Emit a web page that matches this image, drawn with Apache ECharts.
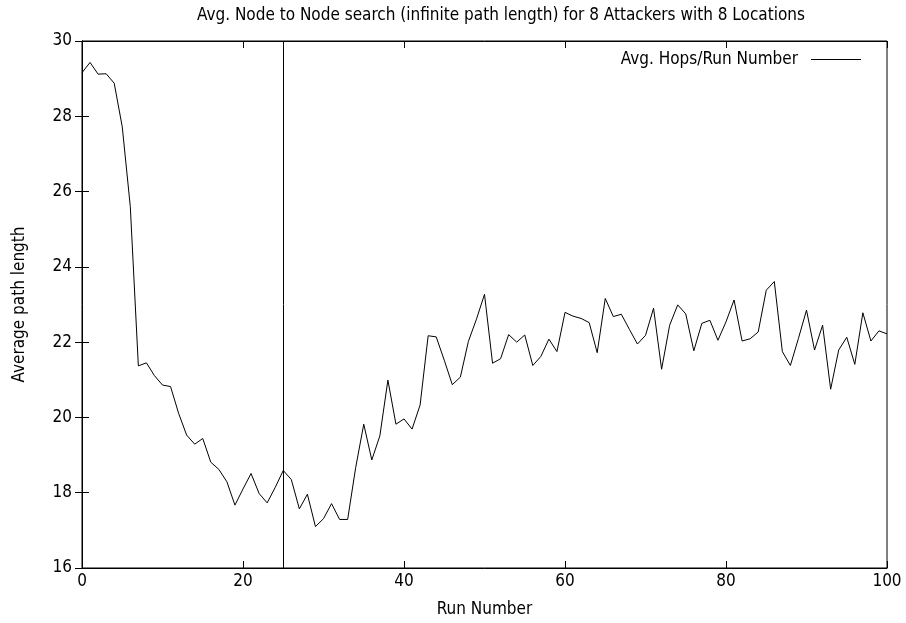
<!DOCTYPE html>
<html>
<head>
<meta charset="utf-8">
<script src="https://cdn.jsdelivr.net/npm/echarts@6/dist/echarts.min.js"></script>
<style>
  html, body { margin: 0; padding: 0; background: #fff; }
  #chart { width: 906px; height: 623px; }
</style>
</head>
<body>
<div id="chart"></div>
<script>
// avg hops per run, run numbers 0..100
const avgHops = [
  29.16, 29.43, 29.12, 29.13, 28.88, 27.72, 25.6, 21.37, 21.45, 21.11,
  20.86, 20.82, 20.11, 19.53, 19.29, 19.44, 18.81, 18.62, 18.29, 17.67,
  18.10, 18.51, 17.98, 17.73, 18.14, 18.59, 18.35, 17.57, 17.96, 17.10,
  17.31, 17.71, 17.29, 17.29, 18.67, 19.82, 18.87, 19.51, 20.99, 19.82,
  19.96, 19.69, 20.33, 22.17, 22.14, 21.52, 20.87, 21.07, 22.02, 22.61,
  23.27, 21.44, 21.56, 22.20, 22.00, 22.19, 21.38, 21.62, 22.08, 21.75,
  22.79, 22.69, 22.63, 22.52, 21.72, 23.16, 22.68, 22.74, 22.34, 21.95,
  22.18, 22.90, 21.28, 22.45, 22.99, 22.75, 21.77, 22.50, 22.58, 22.05,
  22.54, 23.12, 22.03, 22.09, 22.27, 23.38, 23.61, 21.75, 21.38, 22.10,
  22.85, 21.79, 22.45, 20.75, 21.79, 22.13, 21.41, 22.78, 22.03, 22.30,
  22.22
]
const markerRun = 25
const xTicks = [0, 20, 40, 60, 80, 100]
const yTicks = [16, 18, 20, 22, 24, 26, 28, 30]

const font = "'DejaVu Sans Condensed', 'DejaVu Sans'"
const fs = 17
const seriesData = avgHops.map((v, i) => [i, v])

const chart = echarts.init(document.getElementById('chart'))
const tick = { show: true, inside: true, length: 7, lineStyle: { color: '#000', width: 1 } }

chart.setOption({
  animation: false,
  title: {
    text: 'Avg. Node to Node search (infinite path length) for 8 Attackers with 8 Locations',
    left: 192,
    top: 2,
    textStyle: { fontFamily: font, fontSize: fs, fontWeight: 'normal', color: '#000' }
  },
  legend: {
    right: 40,
    top: 46,
    align: 'right',
    icon: 'rect',
    itemWidth: 50,
    itemHeight: 1,
    itemGap: 0,
    textStyle: { fontFamily: font, fontSize: fs, color: '#000', padding: [0, 8, 0, 0] },
    data: ['Avg. Hops/Run Number']
  },
  grid: {
    left: 82,
    right: 19,
    top: 41,
    bottom: 55,
    containLabel: false,
    outerBoundsMode: 'none',
    show: true,
    borderColor: '#000',
    borderWidth: 1
  },
  xAxis: [{
    type: 'value',
    min: xTicks[0],
    max: xTicks[xTicks.length - 1],
    interval: 20,
    name: 'Run Number',
    nameLocation: 'middle',
    nameGap: 33,
    nameTextStyle: { fontFamily: font, fontSize: fs, color: '#000' },
    axisLine: { show: true, lineStyle: { color: '#000' } },
    axisTick: tick,
    axisLabel: { fontFamily: font, fontSize: fs, color: '#000', margin: 5 },
    splitLine: { show: false }
  }, {
    type: 'value',
    position: 'top',
    min: xTicks[0],
    max: xTicks[xTicks.length - 1],
    interval: 20,
    axisLine: { show: true, lineStyle: { color: '#000' } },
    axisTick: tick,
    axisLabel: { show: false },
    splitLine: { show: false }
  }],
  yAxis: [{
    type: 'value',
    min: yTicks[0],
    max: yTicks[yTicks.length - 1],
    interval: 2,
    name: 'Average path length',
    nameLocation: 'middle',
    nameGap: 54,
    nameTextStyle: { fontFamily: font, fontSize: fs, color: '#000' },
    axisLine: { show: true, lineStyle: { color: '#000' } },
    axisTick: tick,
    axisLabel: { fontFamily: font, fontSize: fs, color: '#000', margin: 10 },
    splitLine: { show: false }
  }, {
    type: 'value',
    position: 'right',
    min: yTicks[0],
    max: yTicks[yTicks.length - 1],
    interval: 2,
    axisLine: { show: true, lineStyle: { color: '#000' } },
    axisTick: tick,
    axisLabel: { show: false },
    splitLine: { show: false }
  }],
  series: [{
    name: 'Avg. Hops/Run Number',
    type: 'line',
    data: seriesData,
    showSymbol: false,
    symbol: 'none',
    lineStyle: { color: '#000', width: 1 },
    itemStyle: { color: '#000' },
    markLine: {
      silent: true,
      symbol: 'none',
      label: { show: false },
      lineStyle: { color: '#000', width: 1, type: 'solid' },
      data: [{ xAxis: markerRun }]
    }
  }]
})
</script>
</body>
</html>
